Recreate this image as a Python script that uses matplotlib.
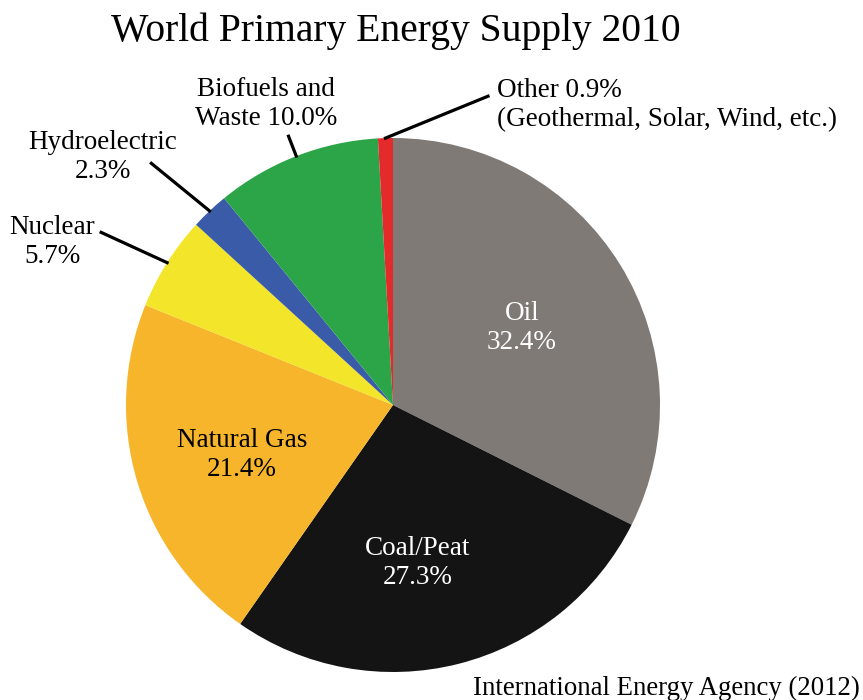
import numpy as np
import matplotlib.pyplot as plt

plt.rcParams['font.family'] = ['Liberation Serif', 'DejaVu Serif']

# data
sources = ["Oil", "Coal/Peat", "Natural Gas", "Nuclear", "Hydroelectric",
           "Biofuels and\nWaste", "Other"]
shares = [32.4, 27.3, 21.4, 5.7, 2.3, 10.0, 0.9]
colors = ["#807a76", "#141414", "#f6b52b", "#f2e52a", "#3a5ca8",
          "#2ba548", "#e42b2b"]


def plot_main():
    fig = plt.figure(figsize=(8.63, 7.00), dpi=100)
    ax = fig.add_axes([0, 0, 1, 1])

    cx, cy, r = 393, 295, 267
    wedges, _ = ax.pie(shares, colors=colors, startangle=90,
                       counterclock=False, center=(cx, cy), radius=r,
                       wedgeprops=dict(linewidth=0), frame=True)
    ax.set_xlim(0, 863)
    ax.set_ylim(0, 700)
    ax.set_aspect("equal")
    ax.axis("off")

    def mid(i):
        w = wedges[i]
        return np.deg2rad((w.theta1 + w.theta2) / 2)

    def pt(a, f):
        return cx + f * r * np.cos(a), cy + f * r * np.sin(a)

    fs = 19.5
    ls = 1.25
    # inner labels
    inner = {0: (522, 372, "white"), 1: (418, 137, "white"),
             2: (242, 245, "black")}
    for i, (x, y, c) in inner.items():
        ax.text(x, y, "{0}\n{1:.1f}%".format(sources[i], shares[i]),
                ha="center", va="center", fontsize=fs, color=c,
                linespacing=ls)

    # leader lines
    lw = 2.3
    a = mid(5)
    p0, p1 = pt(a, 1.0), pt(a, 1.08)
    ax.plot([p0[0], p1[0]], [p0[1], p1[1]], color="k", lw=lw)
    a = mid(4)
    p0, p1 = pt(a, 1.0), pt(np.deg2rad(135), 1.28)
    ax.plot([p0[0], p1[0]], [p0[1], p1[1]], color="k", lw=lw)
    a = mid(3)
    p0, p1 = pt(a, 1.0), pt(np.deg2rad(149.4), 1.27)
    ax.plot([p0[0], p1[0]], [p0[1], p1[1]], color="k", lw=lw)
    a = mid(6)
    p0, p1 = pt(a, 1.0), pt(np.deg2rad(72.9), 1.21)
    ax.plot([p0[0], p1[0]], [p0[1], p1[1]], color="k", lw=lw)

    # outer labels
    ax.text(266, 596, "{0} {1:.1f}%".format(sources[5], shares[5]),
            ha="center", va="center", fontsize=fs, linespacing=ls)
    ax.text(103, 543, "{0}\n{1:.1f}%".format(sources[4], shares[4]),
            ha="center", va="center", fontsize=fs, linespacing=ls)
    ax.text(52, 458, "{0}\n{1:.1f}%".format(sources[3], shares[3]),
            ha="center", va="center", fontsize=fs, linespacing=ls)
    ax.text(497, 595, "{0} {1:.1f}%\n(Geothermal, Solar, Wind, etc.)".format(
        sources[6], shares[6]), ha="left", va="center", fontsize=fs,
        linespacing=ls)

    ax.text(396, 669, "World Primary Energy Supply 2010", ha="center",
            va="center", fontsize=28.5)
    ax.text(860, 12, "International Energy Agency (2012)", ha="right",
            va="center", fontsize=19.3)

    fig.savefig("out.png", dpi=100)


if __name__ == '__main__':
    plot_main()
